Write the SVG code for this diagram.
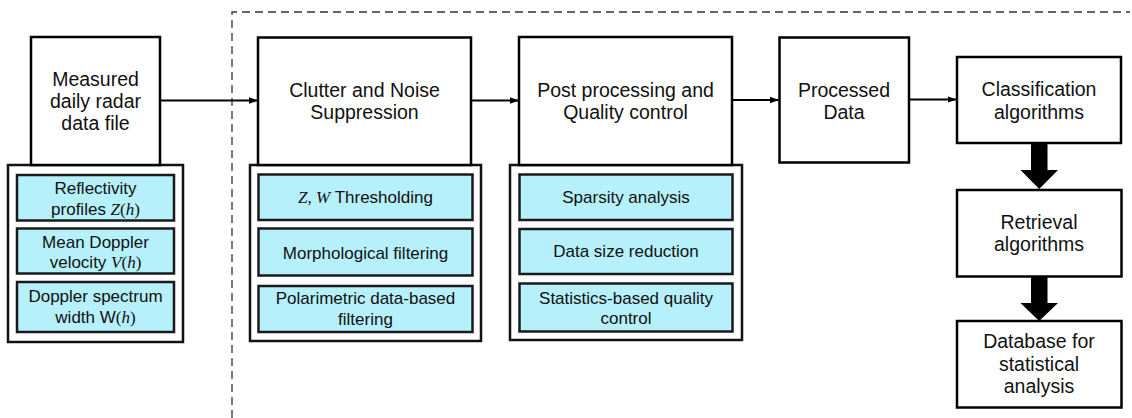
<svg xmlns="http://www.w3.org/2000/svg" width="1132" height="418" viewBox="0 0 1132 418">
<defs>
<style>
.box{fill:#fff;stroke:#000;stroke-width:2.5}
.cont{fill:#fff;stroke:#111;stroke-width:2.5}
.sub{fill:#b5f0fb;stroke:#1a1a1a;stroke-width:2.5}
.t{font-family:"Liberation Sans",Arial,sans-serif;font-size:19.5px;fill:#111;text-anchor:middle}
.s{font-family:"Liberation Sans",Arial,sans-serif;font-size:17px;fill:#111;text-anchor:middle}
.m{font-family:"Liberation Serif","Times New Roman",serif;font-style:italic}
.mu{font-family:"Liberation Serif","Times New Roman",serif}
.line{stroke:#000;stroke-width:2;fill:none}
.dash{stroke:#333;stroke-width:1.3;fill:none;stroke-dasharray:8,5}
.thick{fill:#000}
</style>
<marker id="ah" markerWidth="9" markerHeight="8" refX="8.5" refY="4" orient="auto" markerUnits="userSpaceOnUse">
<path d="M0,0.8 L9,4 L0,7.2 Z" fill="#000"/>
</marker>
</defs>
<rect width="1132" height="418" fill="#fff"/>

<path class="dash" d="M232,418 L232,12 L1130,12"/>

<g id="connectors">
<line class="line" x1="160" y1="100.5" x2="257.5" y2="100.5" marker-end="url(#ah)"/>
<line class="line" x1="471" y1="100.5" x2="518.5" y2="100.5" marker-end="url(#ah)"/>
<line class="line" x1="732" y1="100" x2="778.5" y2="100" marker-end="url(#ah)"/>
<line class="line" x1="909" y1="99.5" x2="956" y2="99.5" marker-end="url(#ah)"/>
<path class="thick" d="M1031,143 L1047.5,143 L1047.5,170 L1058,170 L1039.2,189 L1020.5,170 L1031,170 Z"/>
<path class="thick" d="M1031,277 L1047.5,277 L1047.5,303 L1058,303 L1039.2,321 L1020.5,303 L1031,303 Z"/>
</g>

<g id="measured">
<rect class="cont" x="8" y="165" width="175" height="177"/>
<rect class="box" x="31" y="37" width="129" height="128"/>
<text class="t" x="95.5" y="86">Measured</text>
<text class="t" x="95.5" y="108">daily radar</text>
<text class="t" x="95.5" y="130">data file</text>
</g>
<g id="reflectivity">
<rect class="sub" x="17" y="175" width="157" height="45.5"/>
<text class="s" x="95.5" y="194">Reflectivity</text>
<text class="s" x="95.5" y="214.5">profiles <tspan class="m">Z</tspan><tspan class="mu">(</tspan><tspan class="m">h</tspan><tspan class="mu">)</tspan></text>
</g>
<g id="doppler-velocity">
<rect class="sub" x="17" y="228.5" width="157" height="45"/>
<text class="s" x="95.5" y="247.5">Mean Doppler</text>
<text class="s" x="95.5" y="268">velocity <tspan class="m">V</tspan><tspan class="mu">(</tspan><tspan class="m">h</tspan><tspan class="mu">)</tspan></text>
</g>
<g id="spectrum-width">
<rect class="sub" x="17" y="282" width="157" height="50"/>
<text class="s" x="95.5" y="302">Doppler spectrum</text>
<text class="s" x="95.5" y="322.5">width W<tspan class="mu">(</tspan><tspan class="m">h</tspan><tspan class="mu">)</tspan></text>
</g>

<g id="clutter">
<rect class="cont" x="250" y="165" width="231" height="176"/>
<rect class="box" x="258" y="37.5" width="213" height="127.5"/>
<text class="t" x="364.5" y="96.7">Clutter and Noise</text>
<text class="t" x="364.5" y="119.3">Suppression</text>
</g>
<g id="thresholding">
<rect class="sub" x="258.5" y="174.5" width="214" height="45.5"/>
<text class="s" x="365.5" y="203"><tspan class="m">Z</tspan><tspan class="mu">, </tspan><tspan class="m">W</tspan> Thresholding</text>
</g>
<g id="morphological">
<rect class="sub" x="258.5" y="228.5" width="214" height="47"/>
<text class="s" x="365.5" y="258.5">Morphological filtering</text>
</g>
<g id="polarimetric">
<rect class="sub" x="258.5" y="286" width="214" height="46"/>
<text class="s" x="365.5" y="304">Polarimetric data-based</text>
<text class="s" x="365.5" y="325">filtering</text>
</g>

<g id="post">
<rect class="cont" x="510" y="165" width="232" height="175"/>
<rect class="box" x="519" y="37" width="213" height="128"/>
<text class="t" x="625.5" y="96.7">Post processing and</text>
<text class="t" x="625.5" y="119.3">Quality control</text>
</g>
<g id="sparsity">
<rect class="sub" x="519.5" y="174.5" width="213" height="45.5"/>
<text class="s" x="626" y="203">Sparsity analysis</text>
</g>
<g id="datasize">
<rect class="sub" x="519.5" y="229" width="213" height="45"/>
<text class="s" x="626" y="257">Data size reduction</text>
</g>
<g id="statistics">
<rect class="sub" x="519.5" y="283.5" width="213" height="48"/>
<text class="s" x="626" y="303.5">Statistics-based quality</text>
<text class="s" x="626" y="323.5">control</text>
</g>

<g id="processed">
<rect class="box" x="779.5" y="37.5" width="129.5" height="125"/>
<text class="t" x="844" y="96.5">Processed</text>
<text class="t" x="844" y="118.5">Data</text>
</g>
<g id="classification">
<rect class="box" x="957" y="57" width="164" height="86"/>
<text class="t" x="1039" y="96">Classification</text>
<text class="t" x="1039" y="118.5">algorithms</text>
</g>
<g id="retrieval">
<rect class="box" x="957" y="190" width="164.5" height="86.5"/>
<text class="t" x="1039" y="229.3">Retrieval</text>
<text class="t" x="1039" y="250.5">algorithms</text>
</g>
<g id="database">
<rect class="box" x="957" y="321" width="164.5" height="86.5"/>
<text class="t" x="1039" y="348.3">Database for</text>
<text class="t" x="1039" y="370.7">statistical</text>
<text class="t" x="1039" y="393.3">analysis</text>
</g>
</svg>
